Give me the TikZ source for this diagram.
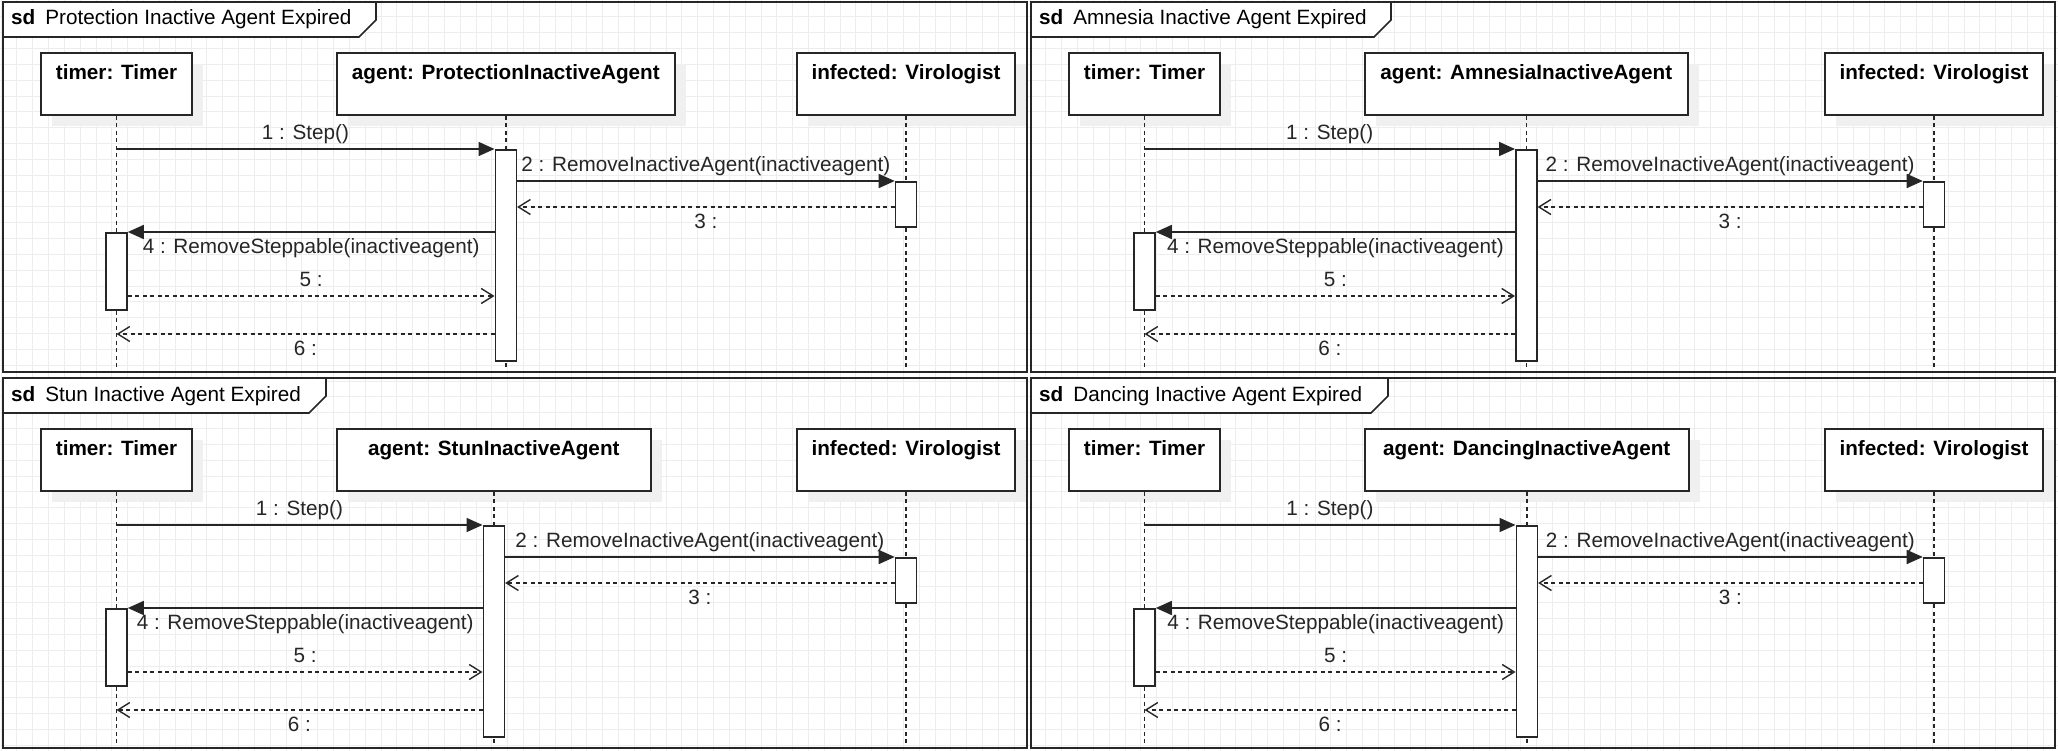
\documentclass[tikz,border=0pt]{standalone}
\usepackage{fontspec}
\setmainfont{Liberation Sans}
\usetikzlibrary{arrows.meta,shadows}

\tikzset{
  sdframe/.style={draw=black!85, line width=1.6pt},
  lifehead/.style={draw=black!85, fill=white, line width=1.6pt, minimum height=62, inner sep=0pt,
    drop shadow={shadow xshift=11pt, shadow yshift=-11pt, fill=black!6, opacity=1}},
  headtxt/.style={anchor=base, inner sep=0pt, font=\fontsize{20.7}{25}\selectfont\bfseries},
  sdtitle/.style={anchor=base west, inner sep=0pt, font=\fontsize{20.7}{25}\selectfont},
  actbox/.style={draw=black!85, fill=white, line width=1.6pt, minimum width=21, inner sep=0pt},
  lifeline/.style={black!85, line width=1.4pt, dash pattern=on 4pt off 3.5pt},
  callmsg/.style={black!85, line width=1.6pt, -{Triangle[length=16pt,width=14pt]}},
  replymsg/.style={black!85, line width=1.4pt, dash pattern=on 4pt off 3.5pt,
    -{Straight Barb[length=12pt,width=15pt]}},
  msglbl/.style={inner sep=0pt, anchor=base, text=black!85, font=\fontsize{20.7}{25}\selectfont},
  lblup/.style={msglbl, yshift=9.5pt},
  lbldn/.style={msglbl, yshift=-21.5pt},
  gridln/.style={black!7, line width=0.7pt}
}

% #1 id, #2 #3 origin, #4 title, #5 tab width, #6 agent class, #7 agent box width
\newcommand{\sdpanel}[7]{%
  \begin{scope}[shift={(#2,#3)}]
    \draw[sdframe] (0,0) rectangle (1024,370);
    \draw[sdframe, fill=white] (0,0) -- (#5,0) -- (#5,18) -- ({#5-17},35) -- (0,35) -- cycle;
    \node[sdtitle] (title-#1) at (8,23) {\textbf{sd}\hspace{10pt}#4};
    \coordinate (bot-#1) at (0,370);
    \coordinate (m1-#1) at (0,147);
    \coordinate (m2-#1) at (0,179);
    \coordinate (m3-#1) at (0,205);
    \coordinate (m4-#1) at (0,230);
    \coordinate (m5-#1) at (0,294);
    \coordinate (m6-#1) at (0,332);
    \node[lifehead, minimum width=151] (timer-#1) at (113.5,82) {};
    \node[lifehead, minimum width=#7, anchor=west] (agent-#1) at (333,82) {};
    \node[lifehead, minimum width=218] (inf-#1) at (903,82) {};
    \node[headtxt] (timerlbl-#1) at ([yshift=-27pt]timer-#1.north) {timer: Timer};
    \node[headtxt] (agentlbl-#1) at ([yshift=-27pt]agent-#1.north) {agent: #6};
    \node[headtxt] (inflbl-#1) at ([yshift=-27pt]inf-#1.north) {infected: Virologist};
    \draw[lifeline] (timer-#1) -- (timer-#1 |- bot-#1);
    \draw[lifeline] (agent-#1) -- (agent-#1 |- bot-#1);
    \draw[lifeline] (inf-#1) -- (inf-#1 |- bot-#1);
    \node[actbox, minimum height=211, anchor=north] (aact-#1) at (agent-#1 |- m1-#1) {};
    \node[actbox, minimum height=45, anchor=north] (iact-#1) at (inf-#1 |- m2-#1) {};
    \node[actbox, minimum height=77, anchor=north] (tact-#1) at (timer-#1 |- m4-#1) {};
    \draw[callmsg] (timer-#1 |- m1-#1) -- node[lblup] (l1-#1) {1 : Step()} (aact-#1.north west);
    \draw[callmsg] (aact-#1.east |- m2-#1) -- node[lblup] (l2-#1) {2 : RemoveInactiveAgent(inactiveagent)} (iact-#1.north west);
    \draw[replymsg] (iact-#1.west |- m3-#1) -- node[lbldn] (l3-#1) {3 :} (aact-#1.east |- m3-#1);
    \draw[callmsg] (aact-#1.west |- m4-#1) -- node[lbldn] (l4-#1) {4 : RemoveSteppable(inactiveagent)} (tact-#1.north east);
    \draw[replymsg] (tact-#1.east |- m5-#1) -- node[lblup] (l5-#1) {5 :} (aact-#1.west |- m5-#1);
    \draw[replymsg] (aact-#1.west |- m6-#1) -- node[lbldn] (l6-#1) {6 :} (timer-#1 |- m6-#1);
  \end{scope}}

\begin{document}
\begin{tikzpicture}[x=1pt, y=-1pt]
  \fill[white] (0,0) rectangle (2058,751);
  \useasboundingbox (0,0) rectangle (2058,751);
  \foreach \gx in {1,16.83,...,2058} \draw[gridln] (\gx,0) -- (\gx,751);
  \foreach \gy in {1,16.83,...,751} \draw[gridln] (0,\gy) -- (2058,\gy);
  \sdpanel{prot}{3}{2}{Protection Inactive Agent Expired}{373}{ProtectionInactiveAgent}{338}
  \sdpanel{amn}{1031}{2}{Amnesia Inactive Agent Expired}{360}{AmnesiaInactiveAgent}{323}
  \sdpanel{stun}{3}{378}{Stun Inactive Agent Expired}{323}{StunInactiveAgent}{314}
  \sdpanel{danc}{1031}{378}{Dancing Inactive Agent Expired}{357}{DancingInactiveAgent}{324}
\end{tikzpicture}
\end{document}
